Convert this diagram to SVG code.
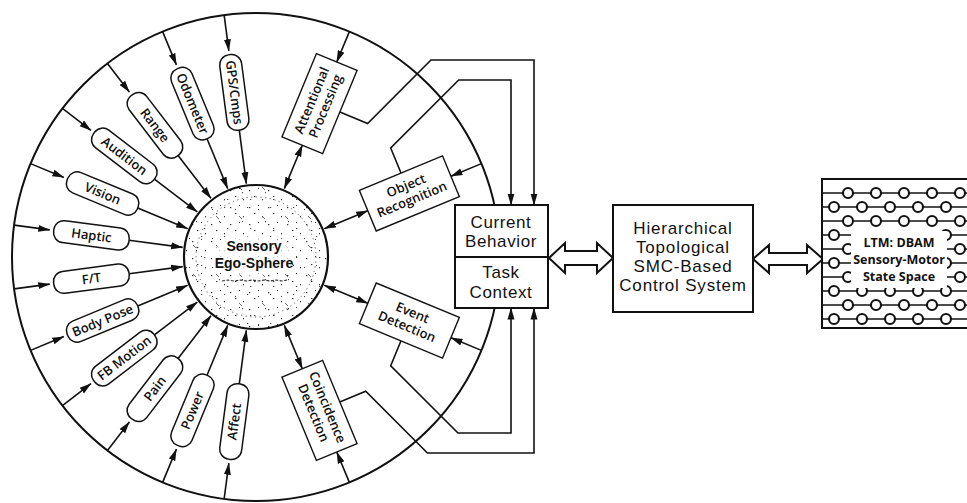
<svg xmlns="http://www.w3.org/2000/svg" width="967" height="503" viewBox="0 0 967 503">
  <defs>
    <style>
      .ln{fill:none;stroke:#111;stroke-width:1.6}
      .arr{marker-end:url(#ah)}
      .dbl{marker-start:url(#ah);marker-end:url(#ah)}
      .sbox{fill:#fff;stroke:#111;stroke-width:1.5}
      .rbox{fill:#fff;stroke:#111;stroke-width:1.4}
      .box{fill:#fff;stroke:#111;stroke-width:2}
      .hollow{fill:#fff;stroke:#111;stroke-width:2;stroke-linejoin:miter}
      text{font-family:"Open Sans","Liberation Sans",sans-serif;fill:#111;text-anchor:middle}
      .lbl{font-size:13px;font-weight:600}
      .rlbl{font-size:13px;font-weight:600}
      .big{font-family:"Liberation Sans",Arial,sans-serif;font-size:17px;letter-spacing:0.6px}
      .ctl{font-family:"Liberation Sans",Arial,sans-serif;font-size:17px;letter-spacing:0.8px}
      .ego{font-family:"Liberation Sans",Arial,sans-serif;font-size:14px;font-weight:700}
      .ltm{font-size:12.5px;font-weight:700}
      .grid line{stroke:#111;stroke-width:1.7}
      .grid circle{fill:#fff;stroke:#111;stroke-width:2.1}
    </style>
    <marker id="ah" viewBox="0 0 12 8" refX="11.5" refY="4" markerWidth="12" markerHeight="8" markerUnits="userSpaceOnUse" orient="auto-start-reverse">
      <path d="M0,0.5 L12,4 L0,7.5 z" fill="#111"/>
    </marker>
    <!-- stipple texture for the sphere -->
    <pattern id="sp1" width="19" height="17" patternUnits="userSpaceOnUse">
      <g fill="#333">
        <rect x="2" y="3" width="1.3" height="1.2"/>
        <rect x="11" y="1" width="1" height="1"/>
        <rect x="7" y="9" width="1.4" height="1.1"/>
        <rect x="15" y="12" width="1" height="1.3"/>
      </g>
    </pattern>
    <pattern id="sp2" width="23" height="29" patternUnits="userSpaceOnUse">
      <g fill="#444">
        <rect x="5" y="6" width="1" height="1"/>
        <rect x="17" y="4" width="1.2" height="1"/>
        <rect x="12" y="18" width="1" height="1.2"/>
        <rect x="20" y="25" width="1.3" height="1"/>
        <path d="M9,13 l3,3" stroke="#444" stroke-width="0.8"/>
      </g>
    </pattern>
  </defs>

  <rect width="967" height="503" fill="#fff"/>

  <!-- outer ring -->
  <g id="ring">
    <circle cx="256" cy="257" r="244" fill="none" stroke="#111" stroke-width="2"/>
  </g>

  <g id="connectors">
    <!-- input spokes: outer ring -> sensor label -> ego-sphere -->
    <g transform="rotate(82.5 256 257)"><line x1="12" y1="257" x2="48" y2="257" class="ln arr"/><line x1="128" y1="257" x2="182" y2="257" class="ln arr"/></g>
    <g transform="rotate(67.5 256 257)"><line x1="12" y1="257" x2="48" y2="257" class="ln arr"/><line x1="128" y1="257" x2="182" y2="257" class="ln arr"/></g>
    <g transform="rotate(52.5 256 257)"><line x1="12" y1="257" x2="48" y2="257" class="ln arr"/><line x1="128" y1="257" x2="182" y2="257" class="ln arr"/></g>
    <g transform="rotate(37.5 256 257)"><line x1="12" y1="257" x2="48" y2="257" class="ln arr"/><line x1="128" y1="257" x2="182" y2="257" class="ln arr"/></g>
    <g transform="rotate(22.5 256 257)"><line x1="12" y1="257" x2="48" y2="257" class="ln arr"/><line x1="128" y1="257" x2="182" y2="257" class="ln arr"/></g>
    <g transform="rotate(7.5 256 257)"><line x1="12" y1="257" x2="48" y2="257" class="ln arr"/><line x1="128" y1="257" x2="182" y2="257" class="ln arr"/></g>
    <g transform="rotate(-7.5 256 257)"><line x1="12" y1="257" x2="48" y2="257" class="ln arr"/><line x1="128" y1="257" x2="182" y2="257" class="ln arr"/></g>
    <g transform="rotate(-22.5 256 257)"><line x1="12" y1="257" x2="48" y2="257" class="ln arr"/><line x1="128" y1="257" x2="182" y2="257" class="ln arr"/></g>
    <g transform="rotate(-37.5 256 257)"><line x1="12" y1="257" x2="48" y2="257" class="ln arr"/><line x1="128" y1="257" x2="182" y2="257" class="ln arr"/></g>
    <g transform="rotate(-52.5 256 257)"><line x1="12" y1="257" x2="48" y2="257" class="ln arr"/><line x1="128" y1="257" x2="182" y2="257" class="ln arr"/></g>
    <g transform="rotate(-67.5 256 257)"><line x1="12" y1="257" x2="48" y2="257" class="ln arr"/><line x1="128" y1="257" x2="182" y2="257" class="ln arr"/></g>
    <g transform="rotate(-82.5 256 257)"><line x1="12" y1="257" x2="48" y2="257" class="ln arr"/><line x1="128" y1="257" x2="182" y2="257" class="ln arr"/></g>

    <!-- processing spokes: outer ring -> process box <-> ego-sphere -->
    <g transform="rotate(-67.5 256 257)"><line x1="500" y1="257" x2="467" y2="257" class="ln arr"/><line x1="377" y1="257" x2="330" y2="257" class="ln dbl"/></g>
    <g transform="rotate(-22.5 256 257)"><line x1="500" y1="257" x2="467" y2="257" class="ln arr"/><line x1="377" y1="257" x2="330" y2="257" class="ln dbl"/></g>
    <g transform="rotate(22.5 256 257)"><line x1="500" y1="257" x2="467" y2="257" class="ln arr"/><line x1="377" y1="257" x2="330" y2="257" class="ln dbl"/></g>
    <g transform="rotate(67.5 256 257)"><line x1="500" y1="257" x2="467" y2="257" class="ln arr"/><line x1="377" y1="257" x2="330" y2="257" class="ln dbl"/></g>

    <!-- process outputs into behavior / task context -->
    <path d="M339.9,112 L367.6,123.5 L431,60 L534,60 L534,205" class="ln arr"/>
    <path d="M401,173 L390.7,148 L458.7,80 L511,80 L511,205" class="ln arr"/>
    <path d="M401,340.8 L390.7,365.7 L458,433 L511,433 L511,308" class="ln arr"/>
    <path d="M339.8,402 L365.7,391.3 L427.4,453 L534,453 L534,308" class="ln arr"/>

    <!-- hollow two-way arrows -->
    <polygon points="549,258 565,243 565,251 597,251 597,243 613,258 597,273 597,265 565,265 565,273" class="hollow"/>
    <polygon points="753,259 769,245 769,253 807,253 807,245 823,259 807,273 807,265 769,265 769,273" class="hollow"/>
  </g>

  <!-- sensor labels -->
  <g id="gps" transform="rotate(82.5 256 257)"><rect x="52" y="246" width="76" height="22" rx="10" class="sbox"/><text x="90" y="261.5" class="lbl">GPS/Cmps</text></g>
  <g id="odometer" transform="rotate(67.5 256 257)"><rect x="52" y="246" width="76" height="22" rx="10" class="sbox"/><text x="90" y="261.5" class="lbl">Odometer</text></g>
  <g id="range" transform="rotate(52.5 256 257)"><rect x="52" y="246" width="76" height="22" rx="10" class="sbox"/><text x="90" y="261.5" class="lbl">Range</text></g>
  <g id="audition" transform="rotate(37.5 256 257)"><rect x="52" y="246" width="76" height="22" rx="10" class="sbox"/><text x="90" y="261.5" class="lbl">Audition</text></g>
  <g id="vision" transform="rotate(22.5 256 257)"><rect x="52" y="246" width="76" height="22" rx="10" class="sbox"/><text x="90" y="261.5" class="lbl">Vision</text></g>
  <g id="haptic" transform="rotate(7.5 256 257)"><rect x="52" y="246" width="76" height="22" rx="10" class="sbox"/><text x="90" y="261.5" class="lbl">Haptic</text></g>
  <g id="ft" transform="rotate(-7.5 256 257)"><rect x="52" y="246" width="76" height="22" rx="10" class="sbox"/><text x="90" y="261.5" class="lbl">F/T</text></g>
  <g id="bodypose" transform="rotate(-22.5 256 257)"><rect x="52" y="246" width="76" height="22" rx="10" class="sbox"/><text x="90" y="261.5" class="lbl">Body Pose</text></g>
  <g id="fbmotion" transform="rotate(-37.5 256 257)"><rect x="52" y="246" width="76" height="22" rx="10" class="sbox"/><text x="90" y="261.5" class="lbl">FB Motion</text></g>
  <g id="pain" transform="rotate(-52.5 256 257)"><rect x="52" y="246" width="76" height="22" rx="10" class="sbox"/><text x="90" y="261.5" class="lbl">Pain</text></g>
  <g id="power" transform="rotate(-67.5 256 257)"><rect x="52" y="246" width="76" height="22" rx="10" class="sbox"/><text x="90" y="261.5" class="lbl">Power</text></g>
  <g id="affect" transform="rotate(-82.5 256 257)"><rect x="52" y="246" width="76" height="22" rx="10" class="sbox"/><text x="90" y="261.5" class="lbl">Affect</text></g>

  <!-- processing boxes -->
  <g id="attentional" transform="rotate(-67.5 256 257)"><rect x="377" y="235" width="90" height="44" class="rbox"/><text x="422" y="253" class="rlbl">Attentional<tspan x="422" dy="15">Processing</tspan></text></g>
  <g id="objrec" transform="rotate(-22.5 256 257)"><rect x="377" y="235" width="90" height="44" class="rbox"/><text x="422" y="253" class="rlbl">Object<tspan x="422" dy="15">Recognition</tspan></text></g>
  <g id="event" transform="rotate(22.5 256 257)"><rect x="377" y="235" width="90" height="44" class="rbox"/><text x="422" y="253" class="rlbl">Event<tspan x="422" dy="15">Detection</tspan></text></g>
  <g id="coincidence" transform="rotate(67.5 256 257)"><rect x="377" y="235" width="90" height="44" class="rbox"/><text x="422" y="253" class="rlbl">Coincidence<tspan x="422" dy="15">Detection</tspan></text></g>

  <!-- sensory ego-sphere -->
  <g id="egosphere">
    <circle cx="256" cy="257" r="72" fill="#fff"/>
    <circle cx="256" cy="257" r="72" fill="url(#sp1)"/>
    <circle cx="256" cy="257" r="72" fill="url(#sp2)"/>
    <circle cx="256" cy="257" r="60" fill="none" stroke="#555" stroke-width="1" stroke-dasharray="1.2 3.5"/>
    <ellipse cx="254" cy="256" rx="42" ry="20" fill="#fff" opacity="0.7"/>
    <circle cx="256" cy="257" r="72" fill="none" stroke="#111" stroke-width="2.2"/>
    <text x="254" y="251" class="ego">Sensory<tspan x="254" dy="17">Ego-Sphere</tspan></text>
    <path d="M222,281 l6,-1 l6,1 l6,-1 l6,1 l6,-1 l6,1 l6,-1 l6,1 l6,-1 l6,1 l5,-1" fill="none" stroke="#333" stroke-width="1.2" stroke-dasharray="3 1.5"/>
  </g>

  <!-- current behavior / task context -->
  <g id="behavior">
    <rect x="455" y="205" width="93" height="103" class="box"/>
    <line x1="455" y1="257" x2="548" y2="257" stroke="#111" stroke-width="2"/>
    <text x="501" y="228" class="big">Current<tspan x="501" dy="19">Behavior</tspan></text>
    <text x="501" y="278" class="big">Task<tspan x="501" dy="20">Context</tspan></text>
  </g>

  <!-- control system -->
  <g id="control">
    <rect x="613" y="205" width="140" height="107" class="box"/>
    <text x="683" y="234" class="ctl">Hierarchical<tspan x="683" dy="19">Topological</tspan><tspan x="683" dy="19">SMC-Based</tspan><tspan x="683" dy="19">Control System</tspan></text>
  </g>

  <!-- long-term memory state space -->
  <g id="ltm">
    <rect x="822" y="179" width="160" height="149" fill="#fff" stroke="#111" stroke-width="2"/>
    <g class="grid">
      <line x1="823" y1="193" x2="967" y2="193"/><line x1="823" y1="207" x2="967" y2="207"/>
      <line x1="823" y1="221" x2="967" y2="221"/><line x1="823" y1="235" x2="967" y2="235"/>
      <line x1="823" y1="249" x2="967" y2="249"/><line x1="823" y1="263" x2="967" y2="263"/>
      <line x1="823" y1="277" x2="967" y2="277"/><line x1="823" y1="291" x2="967" y2="291"/>
      <line x1="823" y1="305" x2="967" y2="305"/><line x1="823" y1="319" x2="967" y2="319"/>
      <circle cx="848" cy="193" r="5"/><circle cx="876" cy="193" r="5"/><circle cx="904" cy="193" r="5"/><circle cx="932" cy="193" r="5"/><circle cx="960" cy="193" r="5"/>
      <circle cx="834" cy="207" r="5"/><circle cx="862" cy="207" r="5"/><circle cx="890" cy="207" r="5"/><circle cx="918" cy="207" r="5"/><circle cx="946" cy="207" r="5"/>
      <circle cx="848" cy="221" r="5"/><circle cx="876" cy="221" r="5"/><circle cx="904" cy="221" r="5"/><circle cx="932" cy="221" r="5"/><circle cx="960" cy="221" r="5"/>
      <circle cx="834" cy="235" r="5"/><circle cx="946" cy="235" r="5"/>
      <circle cx="848" cy="249" r="5"/><circle cx="960" cy="249" r="5"/>
      <circle cx="834" cy="263" r="5"/><circle cx="946" cy="263" r="5"/>
      <circle cx="848" cy="277" r="5"/><circle cx="960" cy="277" r="5"/>
      <circle cx="834" cy="291" r="5"/><circle cx="862" cy="291" r="5"/><circle cx="890" cy="291" r="5"/><circle cx="918" cy="291" r="5"/><circle cx="946" cy="291" r="5"/>
      <circle cx="848" cy="305" r="5"/><circle cx="876" cy="305" r="5"/><circle cx="904" cy="305" r="5"/><circle cx="932" cy="305" r="5"/><circle cx="960" cy="305" r="5"/>
      <circle cx="834" cy="319" r="5"/><circle cx="862" cy="319" r="5"/><circle cx="890" cy="319" r="5"/><circle cx="918" cy="319" r="5"/><circle cx="946" cy="319" r="5"/>
    </g>
    <rect x="851" y="231" width="96" height="57" fill="#fff"/>
    <text x="899" y="247" class="ltm">LTM: DBAM<tspan x="899" dy="17">Sensory-Motor</tspan><tspan x="899" dy="17">State Space</tspan></text>
  </g>
</svg>
